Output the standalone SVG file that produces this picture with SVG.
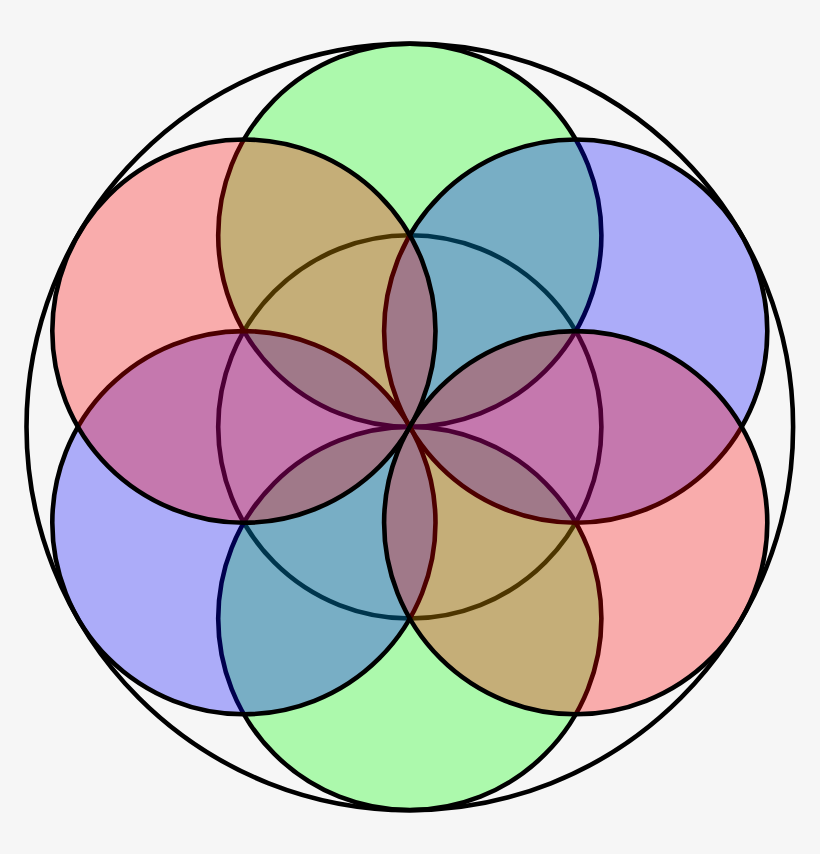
<svg xmlns="http://www.w3.org/2000/svg" width="820" height="854" viewBox="0 0 820 854">
<style>
circle{stroke:#000;stroke-width:4.6}
.none{fill:none}
.g{fill:#00ff00;fill-opacity:0.3}
.b{fill:#0000ff;fill-opacity:0.3}
.r{fill:#ff0000;fill-opacity:0.3}
</style>
<rect x="0" y="0" width="820" height="854" fill="#f6f6f6"/>
<g id="outer"><circle class="none" cx="409.8" cy="426.9" r="383.3"/></g>
<g id="center"><circle class="none" cx="409.8" cy="426.9" r="191.6"/></g>
<g id="green-top"><circle class="g" cx="409.8" cy="235.3" r="191.6"/></g>
<g id="green-bottom"><circle class="g" cx="409.8" cy="618.5" r="191.6"/></g>
<g id="blue-upper-right"><circle class="b" cx="575.7" cy="331.1" r="191.6"/></g>
<g id="blue-lower-left"><circle class="b" cx="243.9" cy="522.7" r="191.6"/></g>
<g id="red-upper-left"><circle class="r" cx="243.9" cy="331.1" r="191.6"/></g>
<g id="red-lower-right"><circle class="r" cx="575.7" cy="522.7" r="191.6"/></g>
</svg>
